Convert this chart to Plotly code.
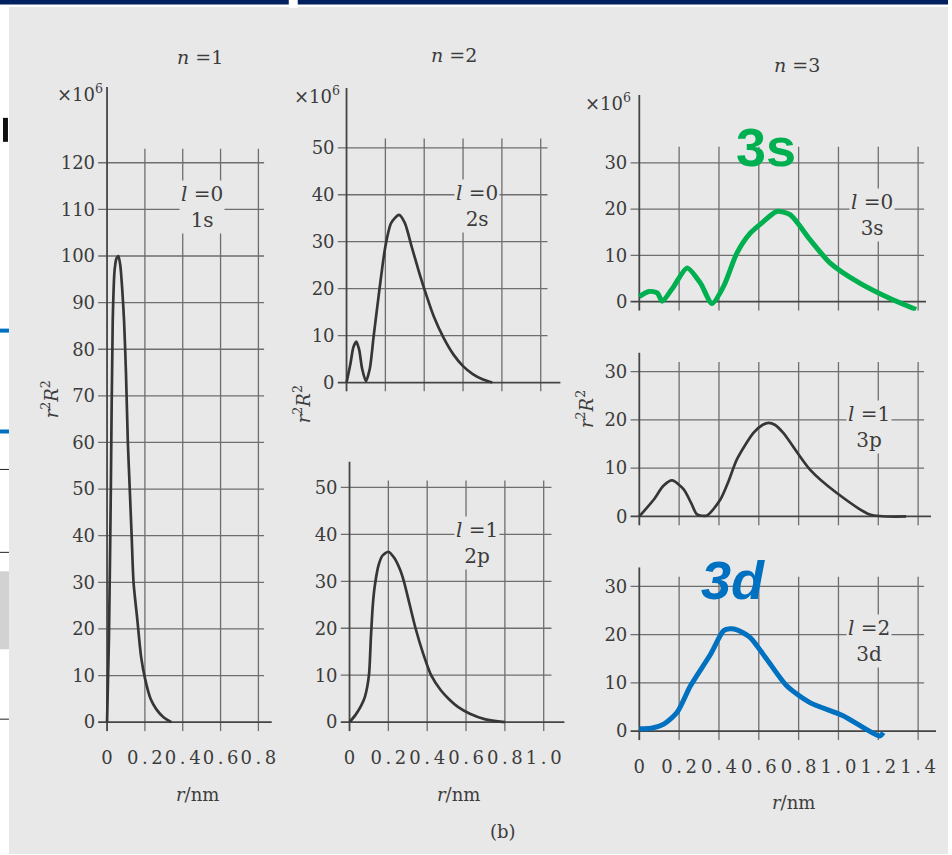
import plotly.graph_objects as go

W, H = 952, 855

# ---------------- data ----------------
# n = 1, l = 0 (1s)
r_1s = [0, 0.01, 0.02, 0.03, 0.04, 0.05, 0.06, 0.07, 0.08, 0.09, 0.10, 0.11, 0.12,
        0.13, 0.14, 0.16, 0.18, 0.20, 0.23, 0.26, 0.30, 0.34]
rR_1s = [0, 18, 50, 86, 97, 99.5, 100, 98, 93, 86, 75, 60, 50,
         40, 30, 22, 14, 9.5, 5, 2.8, 1, 0]

# n = 2, l = 0 (2s)
r_2s = [0, 0.02, 0.035, 0.05, 0.065, 0.08, 0.10, 0.12, 0.14, 0.17, 0.20, 0.23, 0.27,
        0.30, 0.335, 0.37, 0.40, 0.45, 0.50, 0.55, 0.60, 0.65, 0.70, 0.75]
rR_2s = [0, 4, 7.5, 8.7, 7, 3, 0.3, 3, 10, 20, 29, 34, 35.7,
         34, 29, 24, 20, 14, 9.5, 6, 3.5, 1.8, 0.7, 0]

# n = 2, l = 1 (2p)
r_2p = [0, 0.03, 0.06, 0.08, 0.10, 0.11, 0.12, 0.13, 0.15, 0.17, 0.20, 0.23, 0.26,
        0.28, 0.31, 0.34, 0.38, 0.42, 0.47, 0.51, 0.56, 0.62, 0.70, 0.80]
rR_2p = [0, 1.5, 3.5, 5.5, 10, 18, 25, 29, 33.5, 35.5, 36.3, 35, 32.5,
         30, 25, 20, 14.5, 10, 6.8, 5, 3.2, 1.8, 0.6, 0]

# n = 3, l = 0 (3s)
r_3s = [0, 0.048, 0.09, 0.115, 0.173, 0.24, 0.307, 0.365, 0.423, 0.49, 0.557,
        0.623, 0.69, 0.757, 0.857, 0.957, 1.107, 1.273, 1.39]
rR_3s = [1.1, 2.2, 1.9, 0.1, 3.3, 7.3, 4.0, -0.4, 3.3, 10.5, 14.8,
         17.3, 19.5, 18.8, 13.4, 8.4, 4.0, 0.4, -1.7]

# n = 3, l = 1 (3p)
r_3p = [0, 0.073, 0.12, 0.165, 0.223, 0.26, 0.29, 0.34, 0.407, 0.45, 0.49, 0.573,
        0.62, 0.65, 0.68, 0.723, 0.857, 0.99, 1.157, 1.34]
rR_3p = [0, 3.5, 6.3, 7.45, 5.6, 2.8, 0.4, 0.2, 3.5, 7.5, 11.8, 17.3,
         19.0, 19.4, 19.0, 17.3, 9.7, 4.9, 0.4, 0]

# n = 3, l = 2 (3d)
r_3d = [0, 0.06, 0.123, 0.19, 0.257, 0.357, 0.423, 0.455, 0.49, 0.557, 0.64,
        0.74, 0.857, 1.023, 1.207, 1.225]
rR_3d = [0.5, 0.6, 1.45, 3.9, 9.4, 15.9, 20.8, 21.2, 21.0, 19.4, 14.9,
         9.4, 5.9, 3.2, -1.0, -0.3]

yticks_1 = [0, 10, 20, 30, 40, 50, 60, 70, 80, 90, 100, 110, 120]
yticks_2 = [0, 10, 20, 30, 40, 50]
yticks_3 = [0, 10, 20, 30]
xticks_1 = [0, 0.2, 0.4, 0.6, 0.8]
xticks_2 = [0, 0.2, 0.4, 0.6, 0.8, 1.0]
xticks_3 = [0, 0.2, 0.4, 0.6, 0.8, 1.0, 1.2, 1.4]

# ---------------- styles ----------------
BG = '#e8e8e8'
INK = '#3c3c3c'
GRID = '#6e6e6e'
AXIS = '#454545'
CURVE = '#363636'
GREEN = '#00B050'
BLUE = '#0070C0'
SERIF = 'DejaVu Serif'
TICK_PX = 9

panels = [
    dict(r=r_1s, v=rR_1s, color=CURVE, lw=2.7, x0=107.5, sx=190, xend=273, y0=723, sy=4.667,
         ytop=87, xg=0.83, yg=123, yt=yticks_1, xt=xticks_1, xlab=True),
    dict(r=r_2s, v=rR_2s, color=CURVE, lw=2.7, x0=348, sx=195, xend=563, y0=383, sy=4.7,
         ytop=88, xg=1.035, yg=52, yt=yticks_2, xt=xticks_2, xlab=False),
    dict(r=r_2p, v=rR_2p, color=CURVE, lw=2.7, x0=351, sx=195, xend=567, y0=723, sy=4.7,
         ytop=462, xg=1.04, yg=51.5, yt=yticks_2, xt=xticks_2, xlab=True),
    dict(r=r_3s, v=rR_3s, color=GREEN, lw=5, x0=642, sx=200, xend=930, y0=302, sy=4.63,
         ytop=95, xg=1.43, yg=33.5, yt=yticks_3, xt=xticks_3, xlab=False),
    dict(r=r_3p, v=rR_3p, color=CURVE, lw=2.7, x0=642, sx=200, xend=935, y0=517, sy=4.83,
         ytop=353, xg=1.43, yg=32, yt=yticks_3, xt=xticks_3, xlab=False),
    dict(r=r_3d, v=rR_3d, color=BLUE, lw=5, x0=642, sx=200, xend=940, y0=732, sy=4.83,
         ytop=568, xg=1.43, yg=32, yt=yticks_3, xt=xticks_3, xlab=True),
]


def spaced(v):
    s = '0' if v == 0 else f'{v:.1f}'
    return '\u2009'.join(s)


fig = go.Figure()
layout = {}
shapes = []

# page background pieces
shapes.append(dict(type='rect', xref='paper', yref='paper', x0=9 / W, x1=1, y0=0, y1=1 - 7 / H,
                   fillcolor=BG, line_width=0, layer='below'))
shapes.append(dict(type='rect', xref='paper', yref='paper', x0=0, x1=1, y0=1 - 4.5 / H, y1=1,
                   fillcolor='#002060', line_width=0, layer='below'))
shapes.append(dict(type='rect', xref='paper', yref='paper', x0=290 / W, x1=299 / W, y0=1 - 8 / H, y1=1,
                   fillcolor='white', line_width=0, layer='below'))
for (a, b, c) in [(329, 333, BLUE), (430, 434, BLUE), (118, 142, '#111111')]:
    shapes.append(dict(type='rect', xref='paper', yref='paper',
                       x0=(0 if c == BLUE else 3) / W, x1=(9 if c == BLUE else 8) / W,
                       y0=1 - b / H, y1=1 - a / H, fillcolor=c, line_width=0, layer='below'))
for yy in [470, 553, 720]:
    shapes.append(dict(type='line', xref='paper', yref='paper', x0=0, x1=9 / W,
                       y0=1 - yy / H, y1=1 - yy / H, line=dict(color='#222222', width=1)))
shapes.append(dict(type='rect', xref='paper', yref='paper', x0=0, x1=9 / W, y0=1 - 650 / H,
                   y1=1 - 572 / H, fillcolor='#d2d2d2', line_width=0, layer='below'))

for i, p in enumerate(panels, start=1):
    sfx = '' if i == 1 else str(i)
    xref, yref = 'x' + sfx, 'y' + sfx
    tx = TICK_PX / p['sx']
    ty = TICK_PX / p['sy']
    xmax = (p['xend'] - p['x0']) / p['sx']
    ymax = (p['y0'] - p['ytop']) / p['sy']
    layout['xaxis' + sfx] = dict(
        domain=[(p['x0'] - TICK_PX) / W, p['xend'] / W], range=[-tx, xmax], anchor=yref,
        showgrid=False, zeroline=False, showline=False, ticks='',
        tickmode='array', tickvals=p['xt'] if p['xlab'] else [],
        ticktext=[spaced(v) for v in p['xt']] if p['xlab'] else [],
        tickfont=dict(family=SERIF, size=18, color=INK), ticklabelstandoff=14, fixedrange=True)
    layout['yaxis' + sfx] = dict(
        domain=[1 - (p['y0'] + TICK_PX) / H, 1 - p['ytop'] / H], range=[-ty, ymax], anchor=xref,
        showgrid=False, zeroline=False, showline=False, ticks='',
        tickmode='array', tickvals=p['yt'], ticktext=[str(v) for v in p['yt']],
        tickfont=dict(family=SERIF, size=18, color=INK), ticklabelstandoff=2, fixedrange=True)

    # grid lines (extend past the axes as tick marks)
    for yv in p['yt'][1:]:
        shapes.append(dict(type='line', xref=xref, yref=yref, x0=-tx, x1=p['xg'], y0=yv, y1=yv,
                           line=dict(color=GRID, width=1.3), layer='below'))
    for xv in p['xt'][1:]:
        shapes.append(dict(type='line', xref=xref, yref=yref, x0=xv, x1=xv, y0=-ty, y1=p['yg'],
                           line=dict(color=GRID, width=1.3), layer='below'))
    # axis lines
    shapes.append(dict(type='line', xref=xref, yref=yref, x0=-tx, x1=xmax, y0=0, y1=0,
                       line=dict(color=AXIS, width=1.8), layer='below'))
    shapes.append(dict(type='line', xref=xref, yref=yref, x0=0, x1=0, y0=-ty, y1=ymax,
                       line=dict(color=AXIS, width=1.8), layer='below'))

    fig.add_trace(go.Scatter(x=p['r'], y=p['v'], mode='lines', xaxis=xref, yaxis=yref,
                             line=dict(color=p['color'], width=p['lw'], shape='spline', smoothing=0.7),
                             hoverinfo='skip', showlegend=False))

annotations = []


def ann(text, px, py, size=20, color=INK, family=SERIF, bg=None, angle=0, **kw):
    d = dict(text=text, x=px / W, y=1 - py / H, xref='paper', yref='paper', showarrow=False,
             font=dict(family=family, size=size, color=color), xanchor='center', yanchor='middle',
             textangle=angle)
    if bg:
        d['bgcolor'] = bg
    d.update(kw)
    annotations.append(d)


# n labels
ann('<i>n</i> =1', 201, 57, 19)
ann('<i>n</i> =2', 456, 55, 19)
ann('<i>n</i> =3', 800, 65, 19)
# x10^6 labels
ann('×10<sup>6</sup>', 80, 93, 18)
ann('×10<sup>6</sup>', 318, 95, 18)
ann('×10<sup>6</sup>', 611, 102, 18)
# orbital labels inside panels
ann('<i>l</i> =0<br>1s', 203, 207, 20, bg=BG)
ann('<i>l</i> =0<br>2s', 479, 206, 20, bg=BG)
ann('<i>l</i> =1<br>2p', 479, 544, 20, bg=BG)
ann('<i>l</i> =0<br>3s', 876, 215, 20, bg=BG)
ann('<i>l</i> =1<br>3p', 873, 428, 20, bg=BG)
ann('<i>l</i> =2<br>3d', 873, 642, 20, bg=BG)
# y titles
ann('<i>r</i><sup>2</sup><i>R</i><sup>2</sup>', 50, 400, 18, angle=-90)
ann('<i>r</i><sup>2</sup><i>R</i><sup>2</sup>', 303, 405, 18, angle=-90)
ann('<i>r</i><sup>2</sup><i>R</i><sup>2</sup>', 587, 410, 18, angle=-90)
# x titles
ann('<i>r</i>/nm', 198, 795, 18)
ann('<i>r</i>/nm', 460, 795, 18)
ann('<i>r</i>/nm', 797, 803, 18)
ann('(b)', 505, 832, 18)
# highlighted labels
ann('<b>3s</b>', 769, 147, 54, color=GREEN, family='Liberation Sans')
ann('<b><i>3d</i></b>', 736, 581, 54, color=BLUE, family='Liberation Sans')

fig.update_layout(
    width=W, height=H, margin=dict(l=0, r=0, t=0, b=0),
    paper_bgcolor='white', plot_bgcolor='rgba(0,0,0,0)',
    shapes=shapes, annotations=annotations, showlegend=False,
    **layout)

fig.write_html('out.html')
